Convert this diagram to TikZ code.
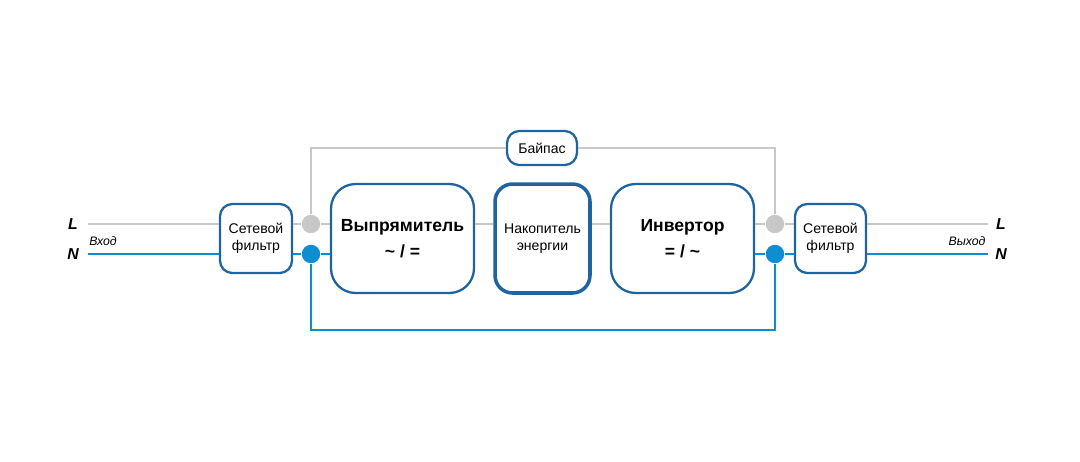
\documentclass[tikz,border=0pt]{standalone}
\usepackage{fontspec}
\setmainfont{Liberation Sans}
\usetikzlibrary{positioning,calc}
\definecolor{upsblue}{HTML}{1F64A0}
\definecolor{wireblue}{HTML}{0E8ED0}
\definecolor{wiregray}{HTML}{C8C8C8}
\tikzset{
  block/.style={draw=upsblue,line width=1.3pt,rounded corners=10pt,align=center,inner sep=0pt},
  lwire/.style={draw=wiregray,line width=1.3pt},
  nwire/.style={draw=wireblue,line width=1.3pt},
  ldot/.style={circle,fill=wiregray,minimum size=10.5pt,inner sep=0pt},
  ndot/.style={circle,fill=wireblue,minimum size=10.5pt,inner sep=0pt},
  tag/.style={font=\bfseries\itshape\small},
}
\begin{document}
\begin{tikzpicture}[x=0.02cm,y=-0.02cm]
\useasboundingbox (0,0) rectangle (1080,461);
% blocks
\node[block,minimum width=1.44cm,minimum height=1.38cm,rounded corners=7pt,font=\footnotesize] (fin) at (256,238.5) {Сетевой\\фильтр};
\node[block,minimum width=2.86cm,minimum height=2.18cm,rounded corners=14pt,font=\bfseries] (rect) at (402.5,238.5) {Выпрямитель\\[3pt]\~{} / =};
\node[block,line width=2pt,minimum width=1.9cm,minimum height=2.18cm,font=\footnotesize] (store) at (542.5,238.5) {Накопитель\\энергии};
\node[block,minimum width=2.86cm,minimum height=2.18cm,rounded corners=14pt,font=\bfseries] (inv) at (682.5,238.5) {Инвертор\\[3pt]= / \~{}};
\node[block,minimum width=1.42cm,minimum height=1.38cm,rounded corners=7pt,font=\footnotesize] (fout) at (830.5,238.5) {Сетевой\\фильтр};
\node[block,minimum width=1.4cm,minimum height=0.68cm,rounded corners=7pt,font=\footnotesize] (bypass) at (542,148) {Байпас};
% terminals
\coordinate (inL) at (88,224);
\coordinate (inN) at (88,254);
\coordinate (outL) at (988,224);
\coordinate (outN) at (988,254);
\node[tag] (tLi) at (73,224) {L};
\node[tag] (tNi) at (73,254) {N};
\node[tag] (tLo) at (1001,224) {L};
\node[tag] (tNo) at (1001,254) {N};
\node[font=\itshape\scriptsize] (vin) at (103,241) {Вход};
\node[font=\itshape\scriptsize] (vout) at (967,241) {Выход};
% junctions
\node[ldot] (jLl) at (311,224) {};
\node[ndot] (jNl) at (311,254) {};
\node[ldot] (jLr) at (775,224) {};
\node[ndot] (jNr) at (775,254) {};
% wires
\draw[lwire] (inL) -- (inL -| fin.west);
\draw[nwire] (inN) -- (inN -| fin.west);
\draw[lwire] (jLl -| fin.east) -- (jLl) -- (jLl -| rect.west);
\draw[nwire] (jNl -| fin.east) -- (jNl) -- (jNl -| rect.west);
\draw[lwire] (jLl -| rect.east) -- (jLl -| store.west);
\draw[lwire] (jLl -| store.east) -- (jLl -| inv.west);
\draw[lwire] (jLr -| inv.east) -- (jLr) -- (jLr -| fout.west);
\draw[nwire] (jNr -| inv.east) -- (jNr) -- (jNr -| fout.west);
\draw[lwire] (outL -| fout.east) -- (outL);
\draw[nwire] (outN -| fout.east) -- (outN);
\draw[lwire] (jLl) |- (bypass.west);
\draw[lwire] (jLr) |- (bypass.east);
\draw[nwire] (jNl) -- (311,330) -| (jNr);
\end{tikzpicture}
\end{document}
